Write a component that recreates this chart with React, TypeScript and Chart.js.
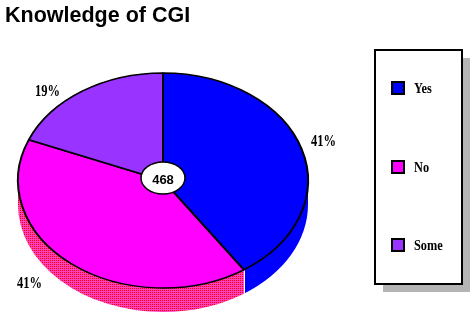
import { useEffect, useRef } from "react";
import { Chart, registerables } from "chart.js";

Chart.register(...registerables);

// ---- data ----
const chartTitle = "Knowledge of CGI";
const categories = ["Yes", "No", "Some"];
const percentValues = [41, 41, 19];
const percentLabels = ["41%", "41%", "19%"];
const totalResponses = 468;

// ---- styles ----
const topColors = ["#0000ff", "#ff00ff", "#9933ff"];
const SQUASH = 107.5 / 145;
const DEPTH = 24;

function makeSidePattern(ctx: CanvasRenderingContext2D) {
  const c = document.createElement("canvas");
  c.width = 2;
  c.height = 2;
  const g = c.getContext("2d")!;
  g.fillStyle = "#ff40c0";
  g.fillRect(0, 0, 2, 2);
  g.fillStyle = "#ff0000";
  g.fillRect(0, 0, 1, 1);
  return ctx.createPattern(c, "repeat");
}

const pie3dPlugin = {
  id: "pie3d",
  beforeDatasetsDraw(chart: any) {
    const ctx: CanvasRenderingContext2D = chart.ctx;
    const arcs = chart.getDatasetMeta(0).data;
    const cx = arcs[0].x;
    const cy = arcs[0].y;
    const rx = arcs[0].outerRadius;
    const ry = rx * SQUASH;
    const sideFill = [topColors[0], makeSidePattern(ctx), topColors[2]];
    ctx.save();
    arcs.forEach((arc: any, i: number) => {
      const s = arc.startAngle;
      const e = arc.endAngle;
      for (const off of [0, 2 * Math.PI]) {
        const a = Math.max(s, off);
        const b = Math.min(e, off + Math.PI);
        if (b > a) {
          ctx.beginPath();
          ctx.ellipse(cx, cy, rx, ry, 0, a, b);
          ctx.ellipse(cx, cy + DEPTH, rx, ry, 0, b, a, true);
          ctx.closePath();
          ctx.fillStyle = sideFill[i] as any;
          ctx.fill();
        }
      }
    });
    // white seam where side colours meet
    arcs.forEach((arc: any) => {
      const a = arc.endAngle % (2 * Math.PI);
      if (a > 0.01 && a < Math.PI - 0.01) {
        const x = Math.round(cx + rx * Math.cos(a)) + 0.5;
        const y = cy + ry * Math.sin(a);
        ctx.beginPath();
        ctx.moveTo(x, y);
        ctx.lineTo(x, y + DEPTH);
        ctx.strokeStyle = "#ffffff";
        ctx.lineWidth = 1;
        ctx.stroke();
      }
    });
    ctx.restore();
    ctx.save();
    ctx.translate(cx, cy);
    ctx.scale(1, SQUASH);
    ctx.translate(-cx, -cy);
  },
  afterDatasetsDraw(chart: any) {
    const ctx: CanvasRenderingContext2D = chart.ctx;
    ctx.restore();
    const arcs = chart.getDatasetMeta(0).data;
    const cx = arcs[0].x;
    const cy = arcs[0].y;

    // centre badge with N
    ctx.save();
    ctx.beginPath();
    ctx.ellipse(cx, cy - 2.5, 22, 16, 0, 0, Math.PI * 2);
    ctx.fillStyle = "#ffffff";
    ctx.fill();
    ctx.lineWidth = 1.5;
    ctx.strokeStyle = "#000000";
    ctx.stroke();
    ctx.fillStyle = "#000000";
    ctx.font = "bold 13px 'Liberation Sans', Arial, sans-serif";
    ctx.textAlign = "center";
    ctx.textBaseline = "middle";
    ctx.fillText(String(totalResponses), cx, cy);
    ctx.restore();

    // percentage labels (annotation anchors)
    const labelAnchors = [
      [311, 146],
      [17, 288],
      [35, 96],
    ];
    ctx.save();
    ctx.fillStyle = "#000000";
    ctx.font = "bold 16px 'Liberation Serif', 'Times New Roman', serif";
    ctx.textAlign = "left";
    ctx.textBaseline = "alphabetic";
    percentLabels.forEach((t, i) => {
      ctx.save();
      ctx.translate(labelAnchors[i][0], labelAnchors[i][1]);
      ctx.scale(0.78, 1);
      ctx.fillText(t, 0, 0);
      ctx.restore();
    });
    ctx.restore();

    // title
    ctx.save();
    ctx.fillStyle = "#000000";
    ctx.font = "bold 21.5px 'Liberation Sans', Arial, sans-serif";
    ctx.textAlign = "left";
    ctx.textBaseline = "alphabetic";
    ctx.fillText(chartTitle, 5, 22);
    ctx.restore();

    // legend box
    const bx = 375, by = 50, bw = 87, bh = 234;
    ctx.save();
    ctx.fillStyle = "#b4b4b4";
    ctx.fillRect(bx + 8, by + 8, bw, bh);
    ctx.fillStyle = "#ffffff";
    ctx.fillRect(bx, by, bw, bh);
    ctx.lineWidth = 2;
    ctx.strokeStyle = "#000000";
    ctx.strokeRect(bx, by, bw, bh);
    ctx.font = "bold 14px 'Liberation Serif', 'Times New Roman', serif";
    ctx.textBaseline = "middle";
    categories.forEach((c, i) => {
      const yc = Math.round(by - 1 + ((i + 0.5) * (bh + 1)) / 3);
      ctx.fillStyle = topColors[i];
      ctx.fillRect(392, yc - 6, 12, 12);
      ctx.lineWidth = 2;
      ctx.strokeStyle = "#000000";
      ctx.strokeRect(392, yc - 6, 12, 12);
      ctx.fillStyle = "#000000";
      ctx.save();
      ctx.translate(414, yc + 1);
      ctx.scale(0.88, 1);
      ctx.fillText(c, 0, 0);
      ctx.restore();
    });
    ctx.restore();
  },
};

export default function App() {
  const ref = useRef<HTMLCanvasElement | null>(null);
  useEffect(() => {
    if (!ref.current) return;
    const chart = new Chart(ref.current, {
      type: "pie",
      data: {
        labels: categories,
        datasets: [
          {
            data: percentValues,
            backgroundColor: topColors,
            borderColor: "#000000",
            borderWidth: 2,
            radius: 145,
            clip: false as any,
          } as any,
        ],
      },
      options: {
        responsive: false,
        animation: false,
        events: [],
        layout: { padding: { left: 0, right: 147, top: 46, bottom: 0 } },
        plugins: {
          legend: { display: false },
          tooltip: { enabled: false },
          title: { display: false },
        },
      },
      plugins: [pie3dPlugin],
    });
    return () => chart.destroy();
  }, []);
  return (
    <div style={{ position: "fixed", left: 0, top: 0, width: 473, height: 315, background: "#ffffff" }}>
      <canvas ref={ref} width={473} height={315} style={{ display: "block" }} />
    </div>
  );
}
